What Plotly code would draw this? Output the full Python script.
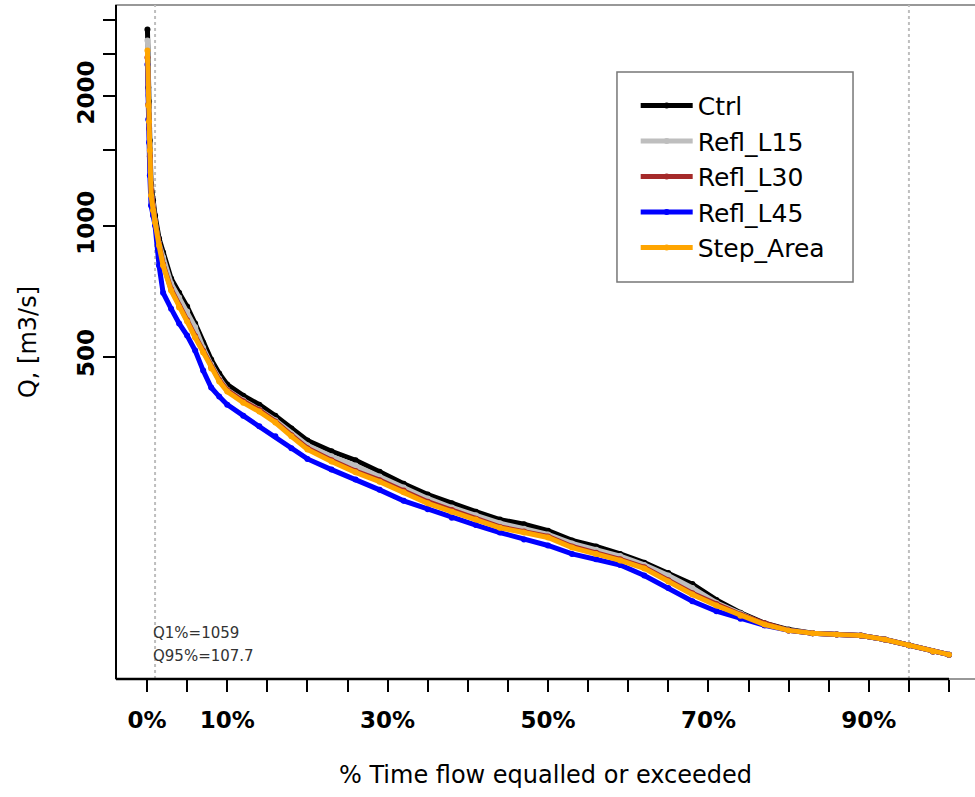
import plotly.graph_objects as go

# % time flow equalled or exceeded
pct = [0.05, 0.15, 0.25, 0.35, 0.5, 0.75, 1, 1.5, 2, 3, 4, 5, 6, 7, 8, 9, 10,
       12, 14, 16, 18, 20, 23, 26, 29, 32, 35, 38, 41, 44, 47, 50, 53, 56, 59,
       62, 65, 68, 71, 74, 77, 80, 83, 86, 89, 92, 95, 98, 100]

ctrl = [2846, 2091, 1941, 1578, 1255, 1146, 1059, 937, 870, 757, 702, 652, 596,
        538, 492, 457, 431, 406, 387, 365, 341, 320, 302, 288, 271, 254, 240,
        229, 219, 210, 205, 198, 188, 182, 175, 167, 158, 149, 137, 128, 121,
        117, 114.7, 114, 113.4, 111, 107.7, 104.1, 102.4]

refl_l15 = [2685, 2004, 1850, 1536, 1222, 1117, 1031, 912, 847, 737, 684, 635,
            584, 524, 479, 445, 419, 396, 377, 356, 332, 312, 294, 280, 264,
            249, 235, 224, 215, 206, 200, 194, 185, 179, 173, 165, 156, 146,
            135, 127.5, 120.2, 116.5, 114.7, 114, 113.4, 111, 107.7, 104.1, 102.4]

refl_l30 = [2453, 1910, 1681, 1450, 1209, 1095, 1027, 908, 817, 715, 654, 606,
            557, 515, 472, 441, 418, 394, 376, 354, 329, 307, 288, 272, 259,
            245, 231, 221, 211, 202, 197, 192, 182, 176, 170, 163, 152, 142,
            134, 126.8, 121, 116.5, 114.7, 114, 113.4, 111, 107.7, 104.1, 102.4]

refl_l45 = [2363, 1764, 1560, 1309, 1117, 1059, 1004, 811, 702, 645, 596, 559,
            516, 464, 424, 404, 387, 365, 345, 327, 307, 290, 274, 260, 246,
            232, 222, 212, 204, 196, 189, 183, 175, 170, 165, 156, 146, 136,
            129, 124, 119.6, 116.5, 114.7, 114, 113.4, 111, 107.7, 104.1, 102.4]

step_area = [2546, 1900, 1745, 1495, 1177, 1087, 1020, 902, 811, 710, 649, 602,
             553, 511, 469, 438, 415, 391, 373, 352, 327, 305, 286, 270, 257,
             243, 229, 219, 210, 201, 196, 191, 181, 175, 169, 162, 151, 141,
             133, 126, 120.2, 116.5, 114.7, 114, 113.4, 111, 107.7, 104.1, 102.4]

series_names = ["Ctrl", "Refl_L15", "Refl_L30", "Refl_L45", "Step_Area"]
series_values = [ctrl, refl_l15, refl_l30, refl_l45, step_area]
series_colors = ["#000000", "#BEBEBE", "#A52A2A", "#0000FF", "#FFA500"]

x_tickvals = list(range(0, 101, 5))
x_ticktext = ["0%" if v == 0 else (f"{v}%" if v in (10, 30, 50, 70, 90) else "") for v in x_tickvals]
y_tickvals = [500, 1000, 1500, 2000, 2500, 3000]
y_ticktext = ["500", "1000", "", "2000", "", ""]

q1_label = "Q1%=1059"
q95_label = "Q95%=107.7"
q_marks = [1, 95]

fig = go.Figure()
for name, vals, col in zip(series_names, series_values, series_colors):
    fig.add_trace(go.Scatter(
        x=pct, y=vals, name=name, mode="lines+markers",
        line=dict(color=col, width=5),
        marker=dict(color=col, size=6),
    ))

XR = [-3.87, 103.24]
fig.update_layout(
    width=975, height=797,
    margin=dict(l=116, r=0, t=5, b=118, autoexpand=False),
    plot_bgcolor="white", paper_bgcolor="white",
    font=dict(family="DejaVu Sans", color="black"),
    legend=dict(x=0.605, y=0.8845, xanchor="left", yanchor="top",
                bgcolor="rgba(0,0,0,0)", borderwidth=0,
                font=dict(size=25, family="DejaVu Sans"), itemwidth=52),
    xaxis=dict(range=XR, tickvals=x_tickvals, ticktext=x_ticktext,
               ticks="outside", ticklen=12, tickwidth=2, tickcolor="black",
               tickfont=dict(size=23, weight="bold"), automargin=False,
               ticklabelstandoff=8,
               showgrid=False, zeroline=False, showline=False,
               title=dict(text="% Time flow equalled or exceeded",
                          font=dict(size=24), standoff=34)),
    yaxis=dict(type="log", range=[1.954, 3.511], tickvals=y_tickvals,
               ticktext=y_ticktext, tickangle=-90, automargin=False,
               ticks="outside", ticklen=12, tickwidth=2, tickcolor="black",
               tickfont=dict(size=23, weight="bold"),
               showgrid=False, zeroline=False, showline=False,
               title=dict(text="Q, [m3/s]", font=dict(size=24), standoff=29)),
)

shapes = [
    dict(type="rect", xref="paper", yref="paper", x0=0, x1=1.01, y0=0, y1=1,
         line=dict(color="#777777", width=1.5), layer="below"),
    dict(type="line", xref="paper", yref="paper", x0=0, x1=0, y0=0, y1=1,
         line=dict(color="black", width=2)),
    dict(type="line", xref="x", yref="paper", x0=XR[0], x1=100, y0=0, y1=0,
         line=dict(color="black", width=2.5)),
]
for q in q_marks:
    shapes.append(dict(type="line", xref="x", yref="paper", x0=q, x1=q, y0=0, y1=1,
                       line=dict(color="#BEBEBE", width=2, dash="dot"), layer="below"))
shapes.append(dict(type="rect", xref="paper", yref="paper",
                   x0=0.5832, x1=0.8580, y0=0.589, y1=0.9006,
                   line=dict(color="#777777", width=1.5), fillcolor="white",
                   layer="above"))
fig.update_layout(shapes=shapes)

fig.add_annotation(text=q1_label, xref="paper", yref="paper", x=0.0407, y=0.0682,
                   xanchor="left", yanchor="middle", showarrow=False,
                   font=dict(size=15, color="#333333"))
fig.add_annotation(text=q95_label, xref="paper", yref="paper", x=0.0407, y=0.0341,
                   xanchor="left", yanchor="middle", showarrow=False,
                   font=dict(size=15, color="#333333"))

fig.write_html("out.html", config={"displayModeBar": False},
               post_script="document.body.style.margin='0px';document.body.style.overflow='hidden';")
